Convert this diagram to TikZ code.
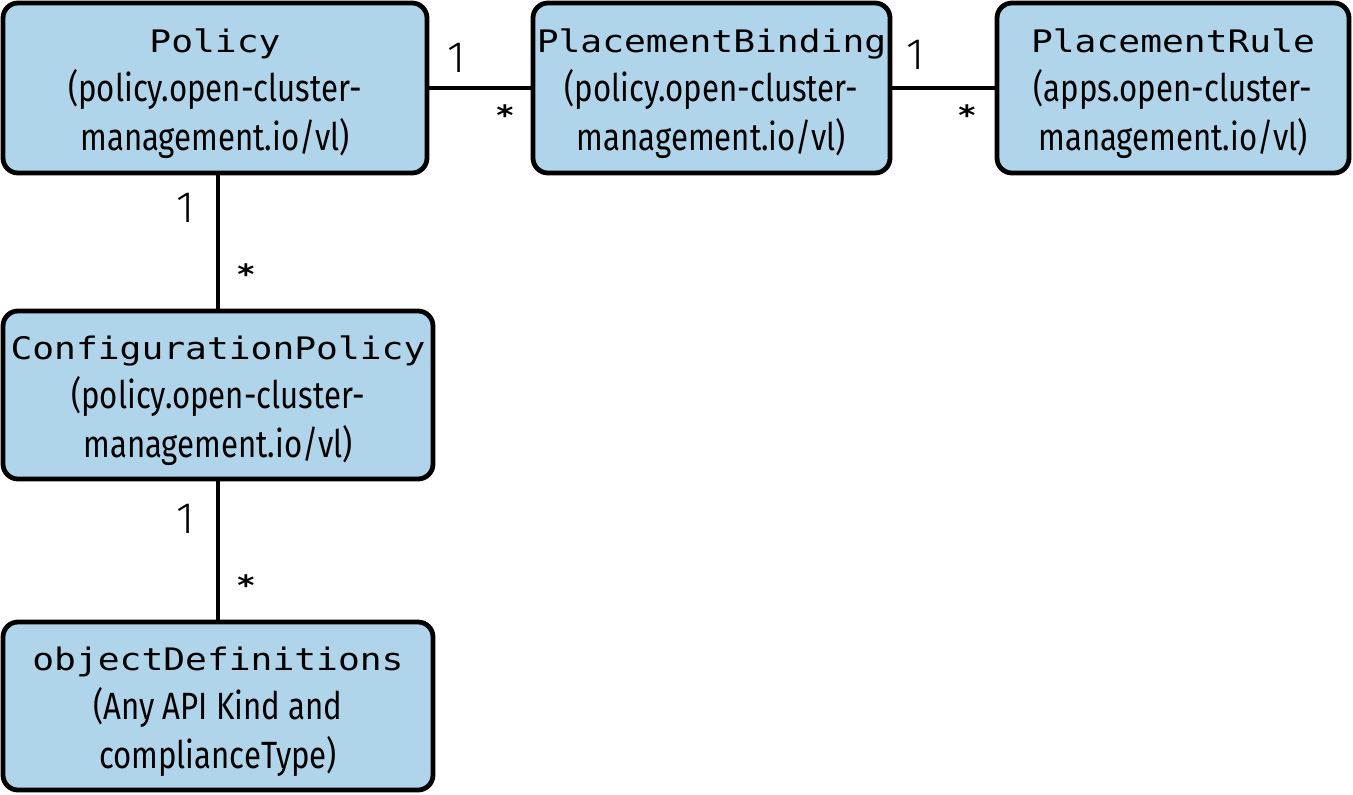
\documentclass[tikz,border=0pt]{standalone}
\usepackage{fontspec}
\setmainfont{Fira Sans}[FakeStretch=0.82]
\newfontfamily\titlefont{DejaVu Sans Mono}[FakeStretch=1.17]
\newfontfamily\labelfont{Fira Sans Light}
\definecolor{boxblue}{HTML}{B0D4EA}
\tikzset{
  umlbox/.style={draw=black, fill=boxblue, line width=2.4pt, rounded corners=7.5pt,
    align=center, inner sep=0pt, minimum height=85pt,
    font=\fontsize{19pt}{24.5pt}\selectfont},
  conn/.style={line width=2pt},
  mult/.style={font=\labelfont\fontsize{22pt}{24pt}\selectfont, inner sep=0pt},
  star/.style={font=\titlefont\bfseries\fontsize{14pt}{16pt}\selectfont, inner sep=0pt}
}
\newcommand{\ttl}[1]{\rule{0pt}{18pt}{\titlefont\fontsize{15.5pt}{24pt}\selectfont #1}}
\begin{document}
\begin{tikzpicture}[x=0.5pt,y=-0.5pt]
\useasboundingbox (0,0) rectangle (1353,794);
\node[umlbox, minimum width=212pt] (policy) at (215,88)
  {\ttl{Policy}\\(policy.open-cluster-\\management.io/vl)};
\node[umlbox, minimum width=178.5pt] (pb) at (711.5,88)
  {\ttl{PlacementBinding}\\(policy.open-cluster-\\management.io/vl)};
\node[umlbox, minimum width=176pt] (pr) at (1173,88)
  {\ttl{PlacementRule}\\(apps.open-cluster-\\management.io/vl)};
\node[umlbox, minimum width=215pt, minimum height=84pt] (cp) at (218,395)
  {\ttl{ConfigurationPolicy}\\(policy.open-cluster-\\management.io/vl)};
\node[umlbox, minimum width=215pt, minimum height=84pt] (od) at (218,706)
  {\ttl{objectDefinitions}\\(Any API Kind and\\complianceType)};
\draw[conn] (policy.east) -- (pb.west);
\draw[conn] (pb.east) -- (pr.west);
\draw[conn] (cp.north |- policy.south) -- (cp.north);
\draw[conn] (cp.south) -- (od.north);
\node[mult] (m1) at (457,58) {1};
\node[star] (s1) at (505,115) {*};
\node[mult] (m2) at (916,55) {1};
\node[star] (s2) at (967,115) {*};
\node[mult] (m3) at (186,208) {1};
\node[star] (s3) at (246,274) {*};
\node[mult] (m4) at (186,519) {1};
\node[star] (s4) at (246,585) {*};
\end{tikzpicture}
\end{document}
